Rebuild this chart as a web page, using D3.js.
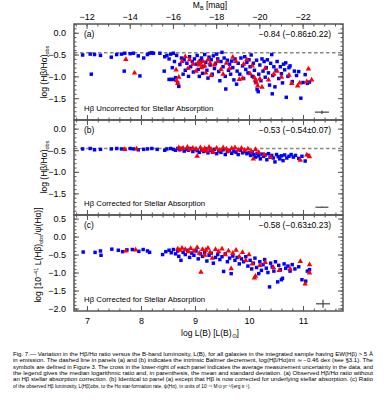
<!DOCTYPE html>
<html>
<head>
<meta charset="utf-8">
<script src="https://cdn.jsdelivr.net/npm/d3@7"></script>
<style>
body { margin: 0; background: #fff; }
text { font-family: "Liberation Sans", Arial, sans-serif; }
</style>
</head>
<body>
<div id="chart"></div>
<script>
// Values: [log L(B), log ratio]
var blueA = [[6.92,-0.51],[7.06,-0.49],[7.14,-0.50],[7.25,-0.52],[7.08,-0.95],[7.45,-0.56],[7.55,-0.50],[7.64,-0.49],[7.70,-0.47],[7.69,-0.88],[7.80,-0.48],[7.86,-0.47],[7.95,-0.53],[7.98,-0.99],[8.05,-0.58],[8.12,-0.50],[8.16,-0.47],[8.20,-0.46],[8.23,-0.47],[8.35,-0.47],[8.44,-0.55],[8.48,-0.52],[8.55,-0.49],[8.60,-0.47],[8.66,-0.52],[8.52,-0.60],
    [8.43,-0.88],[8.52,-1.07],[8.56,-1.07],[8.60,-1.07],[8.64,-1.03],[8.68,-1.15],[8.70,-1.23],[8.58,-0.80],[8.62,-0.66],[8.72,-0.73],[8.75,-0.58],[8.78,-0.95],[8.80,-0.62],[8.82,-0.86],[8.85,-0.70],[8.88,-1.00],[8.90,-0.55],[8.92,-0.78],[8.95,-0.66],[8.97,-0.90],[8.99,-0.60],
    [9.02,-0.72],[9.04,-0.52],[9.06,-0.84],[9.08,-1.00],[9.10,-0.64],[9.12,-0.58],[9.14,-0.93],[9.16,-0.77],[9.18,-0.50],[9.20,-0.68],[9.22,-0.86],[9.24,-1.04],[9.26,-0.56],[9.28,-0.74],[9.30,-0.62],[9.32,-0.95],[9.34,-0.53],[9.36,-0.82],[9.38,-0.70],[9.40,-0.49],[9.42,-0.60],[9.44,-0.89],[9.46,-1.10],[9.48,-0.66],[9.50,-0.45],
    [9.52,-0.78],[9.54,-0.58],[9.56,-1.00],[9.57,-1.29],[9.60,-0.63],[9.62,-0.86],[9.64,-0.72],[9.66,-0.95],[9.68,-0.65],[9.70,-0.80],[9.72,-1.08],[9.74,-0.60],[9.77,-1.18],[9.78,-0.88],[9.80,-0.70],[9.83,-0.95],[9.85,-0.58],[9.88,-0.76],[9.90,-1.05],[9.92,-0.55],[9.94,-0.84],[9.96,-0.68],[9.98,-0.92],
    [10.00,-0.62],[10.02,-0.78],[10.04,-0.51],[10.06,-1.00],[10.08,-0.70],[10.10,-0.86],[10.12,-1.12],[10.14,-0.63],[10.15,-1.30],[10.17,-1.35],[10.18,-0.95],[10.20,-0.74],[10.22,-1.10],[10.24,-0.60],[10.26,-0.88],[10.28,-0.66],[10.30,-1.02],[10.32,-0.80],[10.34,-0.62],[10.36,-0.92],[10.38,-1.20],[10.40,-0.70],[10.42,-0.50],[10.43,-1.40],[10.44,-0.98],[10.46,-0.78],[10.48,-1.24],[10.50,-0.86],
    [10.52,-0.66],[10.55,-1.05],[10.58,-0.78],[10.60,-0.94],[10.62,-1.15],[10.64,-0.72],[10.66,-0.85],[10.68,-0.69],[10.69,-1.48],[10.72,-1.00],[10.74,-0.80],[10.76,-0.76],[10.80,-1.12],[10.84,-0.88],[10.88,-0.98],[10.92,-0.89],[10.96,-1.50],[11.00,-1.14],[11.04,-0.96],[11.08,-1.16],[11.12,-1.13]];
var redA = [[7.72,-0.61],[7.88,-0.92],[8.66,-1.10],[8.68,-1.16],[8.70,-1.02],[8.65,-0.85],[8.76,-0.66],[8.82,-0.55],[8.87,-0.82],[8.90,-0.62],[8.96,-0.72],[9.02,-0.88],[9.06,-0.68],[9.08,-0.74],[9.10,-0.70],[9.12,-0.80],[9.15,-0.66],[9.18,-0.76],[9.20,-0.92],[9.24,-0.62],[9.28,-0.70],[9.30,-0.98],[9.36,-0.74],[9.42,-0.66],[9.48,-0.84],[9.52,-0.95],[9.58,-0.70],[9.64,-0.82],[9.70,-0.56],[9.76,-0.66],[9.82,-1.07],[9.88,-1.04],[9.90,-0.72],[9.96,-0.62],[10.02,-0.94],[10.06,-0.76],[10.10,-1.03],[10.12,-1.08],[10.14,-1.15],[10.16,-1.22],[10.20,-1.06],[10.24,-1.25],[10.30,-0.82],[10.36,-1.08],[10.46,-0.95],[10.52,-0.88],[10.60,-1.02],[10.74,-0.97],[10.79,-1.16],[10.90,-1.22],[10.94,-1.15],[11.07,-1.12],[11.10,-0.83],[11.16,-1.08]];

var blueB = [[6.92,-0.47],[7.06,-0.46],[7.14,-0.49],[7.25,-0.48],[7.45,-0.47],[7.55,-0.46],[7.64,-0.47],[7.70,-0.48],[7.80,-0.46],[7.86,-0.47],[7.95,-0.49],[8.05,-0.48],[8.12,-0.47],[8.20,-0.46],[8.30,-0.48],[8.44,-0.50],[8.48,-0.47],[8.55,-0.46],[8.60,-0.48],[8.64,-0.50],[8.68,-0.46],
    [8.72,-0.49],[8.76,-0.46],[8.80,-0.52],[8.84,-0.48],[8.88,-0.50],[8.92,-0.46],[8.96,-0.53],[9.00,-0.48],[9.04,-0.51],[9.08,-0.55],[9.12,-0.49],[9.16,-0.53],[9.20,-0.47],[9.24,-0.56],[9.28,-0.50],[9.32,-0.54],[9.36,-0.48],[9.40,-0.58],[9.44,-0.52],[9.48,-0.55],[9.52,-0.49],[9.56,-0.60],[9.60,-0.53],[9.64,-0.50],[9.68,-0.57],[9.72,-0.52],[9.76,-0.55],[9.80,-0.60],[9.84,-0.50],[9.88,-0.56],[9.92,-0.53],[9.96,-0.58],
    [10.00,-0.56],[10.03,-0.62],[10.06,-0.54],[10.09,-0.60],[10.12,-0.66],[10.15,-0.57],[10.18,-0.63],[10.21,-0.70],[10.24,-0.59],[10.27,-0.64],[10.30,-0.61],[10.33,-0.72],[10.36,-0.58],[10.39,-0.66],[10.42,-0.62],[10.45,-0.68],[10.48,-0.77],[10.51,-0.60],[10.54,-0.65],[10.57,-0.70],[10.60,-0.63],[10.63,-0.74],[10.66,-0.61],[10.70,-0.68],[10.74,-0.64],[10.78,-0.60],[10.82,-0.66],[10.86,-0.62],[10.92,-0.69],[10.98,-0.64],[11.04,-0.75],[11.10,-0.62]];
var redB = [[7.70,-0.48],[7.92,-0.47],[8.70,-0.44],[8.74,-0.47],[8.78,-0.45],[8.86,-0.43],[8.90,-0.48],[8.96,-0.45],[9.02,-0.47],[9.04,-0.64],[9.10,-0.44],[9.14,-0.50],[9.18,-0.46],[9.22,-0.52],[9.26,-0.43],[9.30,-0.48],[9.34,-0.55],[9.40,-0.45],[9.46,-0.50],[9.52,-0.44],[9.58,-0.47],[9.62,-0.52],[9.68,-0.46],[9.74,-0.44],[9.80,-0.49],[9.86,-0.45],[9.92,-0.50],[9.98,-0.47],[10.04,-0.52],[10.08,-0.70],[10.12,-0.48],[10.18,-0.55],[10.28,-0.60],[10.40,-0.66],[10.95,-0.73],[11.07,-0.61],[11.12,-0.65]];

var blueC = [[6.93,-0.43],[7.15,-0.44],[7.25,-0.40],[7.26,-0.52],[7.46,-0.35],[7.58,-0.38],[7.66,-0.42],[7.74,-0.37],[7.84,-0.36],[7.96,-0.41],[8.04,-0.36],[8.12,-0.40],[8.16,-0.44],[8.40,-0.50],[8.46,-0.42],[8.52,-0.38],[8.56,-0.45],[8.60,-0.36],[8.64,-0.48],[8.68,-0.40],[8.70,-0.55],[8.74,-0.66],[8.78,-0.44],[8.82,-0.50],[8.86,-0.38],[8.90,-0.58],[8.94,-0.46],[8.98,-0.52],[9.02,-0.40],[9.06,-0.62],[9.10,-0.48],[9.14,-0.55],[9.18,-0.44],[9.22,-0.68],[9.26,-0.52],[9.30,-0.46],[9.34,-0.74],[9.38,-0.58],[9.42,-0.50],[9.46,-0.64],[9.50,-0.56],[9.53,-0.97],[9.56,-0.48],[9.60,-0.70],[9.64,-0.60],[9.67,-1.03],[9.70,-0.54],[9.74,-0.66],[9.78,-0.58],[9.82,-0.76],[9.86,-0.62],[9.90,-0.70],[9.94,-0.56],[9.98,-0.82],
    [10.02,-0.66],[10.05,-0.90],[10.08,-0.74],[10.11,-0.60],[10.14,-0.86],[10.18,-1.03],[10.20,-0.70],[10.23,-0.94],[10.26,-0.78],[10.29,-0.64],[10.32,-0.88],[10.35,-1.00],[10.38,-1.40],[10.40,-0.74],[10.43,-0.84],[10.46,-0.96],[10.49,-0.70],[10.53,-1.26],[10.55,-0.80],[10.58,-0.92],[10.60,-1.20],[10.62,-1.16],[10.65,-0.76],[10.68,-0.88],[10.72,-0.82],[10.76,-0.96],[10.80,-0.78],[10.85,-0.90],[10.92,-0.84],[10.98,-1.20],[11.05,-1.24],[11.08,-0.96],[11.12,-0.92]];
var redC = [[7.72,-0.40],[7.90,-0.37],[8.68,-0.34],[8.72,-0.38],[8.76,-0.32],[8.82,-0.36],[8.88,-0.42],[8.92,-0.33],[8.98,-0.40],[9.04,-0.30],[9.08,-0.46],[9.11,-0.99],[9.14,-0.36],[9.18,-0.52],[9.20,-0.38],[9.24,-0.32],[9.28,-0.44],[9.32,-0.60],[9.38,-0.36],[9.44,-0.42],[9.50,-0.34],[9.56,-0.50],[9.62,-0.40],[9.67,-0.89],[9.70,-0.46],[9.76,-0.38],[9.82,-0.56],[9.88,-0.44],[9.94,-0.66],[10.00,-0.50],[10.06,-0.76],[10.10,-1.15],[10.12,-1.10],[10.20,-0.80],[10.30,-0.72],[10.45,-0.86],[10.56,-0.94],[10.76,-0.90],[10.95,-0.69],[11.04,-1.32],[11.12,-1.01],[11.12,-0.78]];

// legend text, error crosses [x, y, xerr, yerr] and ticks
var statsText = ["\u22120.84 (\u22120.86\u00b10.22)", "\u22120.53 (\u22120.54\u00b10.07)", "\u22120.58 (\u22120.63\u00b10.23)"];
var panelTags = ["(a)", "(b)", "(c)"];
var noteText = ["H\u03b2 Uncorrected for Stellar Absorption", "H\u03b2 Corrected for Stellar Absorption", "H\u03b2 Corrected for Stellar Absorption"];
var errorCross = [[11.35, -1.82, 0.13, 0.04], [11.35, -1.82, 0.12, 0.01], [11.37, -1.87, 0.13, 0.11]];
var intrinsicRatio = -0.46;
var xTicks = [7, 8, 9, 10, 11];
var magTicks = [-12, -14, -16, -18, -20, -22];
var yTicksAB = [0.0, -0.5, -1.0, -1.5];
var yTicksC = [0.5, 0.0, -0.5, -1.0, -1.5, -2.0];
var sunMagB = 5.48;

var caption = [
    "Fig. 7.\u2014 Variation in the H\u03b2/H\u03b1 ratio versus the B-band luminosity, L(B), for all galaxies in the integrated sample having EW(H\u03b2) > 5 \u00c5",
    "in emission. The dashed line in panels (a) and (b) indicates the intrinsic Balmer decrement, log(H\u03b2/H\u03b1)int \u2243 \u22120.46 dex (see \u00a73.1). The",
    "symbols are defined in Figure 3. The cross in the lower-right of each panel indicates the average measurement uncertainty in the data, and",
    "the legend gives the median logarithmic ratio and, in parenthesis, the mean and standard deviation. (a) Observed H\u03b2/H\u03b1 ratio without",
    "an H\u03b2 stellar absorption correction. (b) Identical to panel (a) except that H\u03b2 is now corrected for underlying stellar absorption. (c) Ratio",
    "of the observed H\u03b2 luminosity, L(H\u03b2)obs, to the H\u03b1 star-formation rate, \u03c8(H\u03b1), in units of 10\u207b\u2074\u00b9 M\u2299 yr\u207b\u00b9/(erg s\u207b\u00b9)."
];

var svgWidth = 387;
var svgHeight = 400;
var left = 74, right = 343;
var ink = "#555";

var svg = d3.select("#chart")
    .append("svg")
    .attr("width", svgWidth)
    .attr("height", svgHeight);

var xScale = d3.scaleLinear().domain([6.76, 11.74]).range([left, right]);
var magScale = d3.scaleLinear()
    .domain([sunMagB - 2.5 * 6.76, sunMagB - 2.5 * 11.74])
    .range([left, right]);

var panels = [
    {blue: blueA, red: redA, top: 24, bottom: 120, domain: [-2.0, 0.2], ticks: yTicksAB, dashed: true},
    {blue: blueB, red: redB, top: 120, bottom: 215, domain: [-2.0, 0.2], ticks: yTicksAB, dashed: true},
    {blue: blueC, red: redC, top: 215, bottom: 311, domain: [-2.07, 0.6], ticks: yTicksC, dashed: false}
];

var xMinor = d3.range(34, 59).map(d => d / 5);
var magMinor = d3.range(-47, -22).map(d => d / 2);

function styleAxis(g, fontSize) {
    g.select(".domain").remove();
    g.selectAll("line").attr("stroke", ink).attr("stroke-width", 1);
    g.selectAll("text")
        .attr("fill", "#000")
        .attr("font-size", fontSize)
        .attr("font-family", "'Liberation Sans', Arial, sans-serif");
}

var square = d3.symbol().type(d3.symbolSquare).size(12);
var triangle = d3.symbol().type(d3.symbolTriangle).size(13);

panels.forEach(function(p, i) {
    var y = d3.scaleLinear().domain(p.domain).range([p.bottom, p.top]);
    var yMinor = d3.range(Math.ceil(p.domain[0] * 10), Math.floor(p.domain[1] * 10) + 1).map(d => d / 10);
    var g = svg.append("g");

    // dashed intrinsic Balmer decrement
    if (p.dashed) {
        g.append("line")
            .attr("x1", left).attr("x2", right)
            .attr("y1", y(intrinsicRatio)).attr("y2", y(intrinsicRatio))
            .attr("stroke", "#888")
            .attr("stroke-width", 1.6)
            .attr("stroke-dasharray", "3.5,2.5");
    }

    // blue squares and red triangles
    g.selectAll(".blue")
        .data(p.blue)
        .enter()
        .append("path")
        .attr("d", square)
        .attr("transform", d => `translate(${xScale(d[0])},${y(d[1])})`)
        .attr("fill", "#0000ff");

    g.selectAll(".red")
        .data(p.red)
        .enter()
        .append("path")
        .attr("d", triangle)
        .attr("transform", d => `translate(${xScale(d[0])},${y(d[1])})`)
        .attr("fill", "#ff0000");

    // error cross
    var e = errorCross[i];
    g.append("line")
        .attr("x1", xScale(e[0] - e[2])).attr("x2", xScale(e[0] + e[2]))
        .attr("y1", y(e[1])).attr("y2", y(e[1]))
        .attr("stroke", "#444").attr("stroke-width", 1.2);
    g.append("line")
        .attr("x1", xScale(e[0])).attr("x2", xScale(e[0]))
        .attr("y1", y(e[1] - e[3])).attr("y2", y(e[1] + e[3]))
        .attr("stroke", "#444").attr("stroke-width", 1.2);

    // y axes, ticks inward on both sides
    g.append("g")
        .attr("transform", `translate(${left},0)`)
        .call(d3.axisLeft(y).tickValues(p.ticks).tickSize(-5).tickPadding(8).tickFormat(d3.format(".1f")))
        .call(styleAxis, 9);
    g.append("g")
        .attr("transform", `translate(${left},0)`)
        .call(d3.axisLeft(y).tickValues(yMinor).tickSize(-2.5).tickFormat(""))
        .call(styleAxis, 9);
    g.append("g")
        .attr("transform", `translate(${right},0)`)
        .call(d3.axisRight(y).tickValues(p.ticks).tickSize(-5).tickFormat(""))
        .call(styleAxis, 9);
    g.append("g")
        .attr("transform", `translate(${right},0)`)
        .call(d3.axisRight(y).tickValues(yMinor).tickSize(-2.5).tickFormat(""))
        .call(styleAxis, 9);

    // x ticks at bottom of each panel
    var bottomAxis = d3.axisBottom(xScale).tickValues(xTicks).tickSize(-5).tickPadding(7)
        .tickFormat(i < 2 ? "" : d3.format("d"));
    g.append("g")
        .attr("transform", `translate(0,${p.bottom})`)
        .call(bottomAxis)
        .call(styleAxis, 9);
    g.append("g")
        .attr("transform", `translate(0,${p.bottom})`)
        .call(d3.axisBottom(xScale).tickValues(xMinor).tickSize(-2.5).tickFormat(""))
        .call(styleAxis, 9);

    // top ticks: magnitudes on the first panel, log L(B) on the others
    if (i === 0) {
        g.append("g")
            .attr("transform", `translate(0,${p.top})`)
            .call(d3.axisTop(magScale).tickValues(magTicks).tickSize(-5).tickPadding(4).tickFormat(d3.format("d")))
            .call(styleAxis, 9);
        g.append("g")
            .attr("transform", `translate(0,${p.top})`)
            .call(d3.axisTop(magScale).tickValues(magMinor).tickSize(-2.5).tickFormat(""))
            .call(styleAxis, 9);
    } else {
        g.append("g")
            .attr("transform", `translate(0,${p.top})`)
            .call(d3.axisTop(xScale).tickValues(xTicks).tickSize(-5).tickFormat(""))
            .call(styleAxis, 9);
        g.append("g")
            .attr("transform", `translate(0,${p.top})`)
            .call(d3.axisTop(xScale).tickValues(xMinor).tickSize(-2.5).tickFormat(""))
            .call(styleAxis, 9);
    }

    // frame
    g.append("rect")
        .attr("x", left).attr("y", p.top)
        .attr("width", right - left).attr("height", p.bottom - p.top)
        .attr("fill", "none")
        .attr("stroke", ink)
        .attr("stroke-width", 1.5);

    // panel labels
    g.append("text")
        .attr("x", left + 10).attr("y", p.top + 13)
        .attr("font-size", 8.5)
        .text(panelTags[i]);
    g.append("text")
        .attr("x", right - 12).attr("y", p.top + 13)
        .attr("text-anchor", "end")
        .attr("font-size", 8.5)
        .text(statsText[i]);
    g.append("text")
        .attr("x", left + 10).attr("y", p.bottom - 9)
        .attr("font-size", 7.8)
        .text(noteText[i]);
});

// y-axis titles
function yTitle(x, y, parts) {
    var t = svg.append("text")
        .attr("transform", `translate(${x},${y}) rotate(-90)`)
        .attr("text-anchor", "middle")
        .attr("font-size", 8.5);
    parts.forEach(function(part) {
        var s = t.append("tspan").text(part[0]);
        if (part[1] === "sub") s.attr("font-size", 5.5).attr("baseline-shift", "-25%");
        if (part[1] === "sup") s.attr("font-size", 5.5).attr("baseline-shift", "45%");
    });
}
yTitle(47, 72, [["log (H\u03b2/H\u03b1)"], ["obs", "sub"]]);
yTitle(47, 167, [["log (H\u03b2/H\u03b1)"], ["obs", "sub"]]);
yTitle(41, 255, [["log [10"], ["\u221241", "sup"], [" L(H\u03b2)"], ["obs", "sub"], ["/\u03c8(H\u03b1)]"]]);

// top and bottom titles
var topTitle = svg.append("text")
    .attr("x", 210).attr("y", 8)
    .attr("text-anchor", "middle")
    .attr("font-size", 8.5);
topTitle.append("tspan").text("M");
topTitle.append("tspan").text("B").attr("font-size", 5.5).attr("baseline-shift", "-25%");
topTitle.append("tspan").text(" [mag]");

var bottomTitle = svg.append("text")
    .attr("x", 210).attr("y", 336)
    .attr("text-anchor", "middle")
    .attr("font-size", 8.5);
bottomTitle.append("tspan").text("log L(B) [L(B)");
bottomTitle.append("tspan").text("\u2299").attr("font-size", 5.5).attr("baseline-shift", "-25%");
bottomTitle.append("tspan").text("]");

// caption
svg.selectAll(".caption")
    .data(caption)
    .enter()
    .append("text")
    .attr("x", 13)
    .attr("y", (d, i) => 356 + i * 6.3)
    .attr("font-size", 4.8)
    .attr("font-family", "'Liberation Serif', 'DejaVu Serif', serif")
    .attr("textLength", (d, i) => i < 5 ? 360 : null)
    .attr("lengthAdjust", "spacingAndGlyphs")
    .text(d => d);
</script>
</body>
</html>
